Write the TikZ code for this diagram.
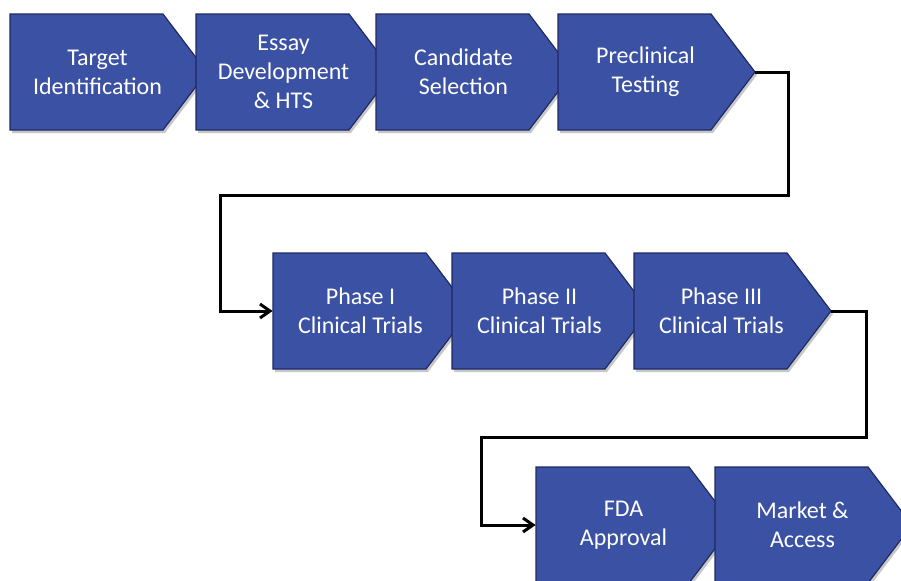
\documentclass[tikz,border=0pt]{standalone}
\usepackage{fontspec}
\setmainfont{Carlito}
\usetikzlibrary{arrows.meta}

\definecolor{stageblue}{RGB}{58,81,164}
\definecolor{stageedge}{RGB}{30,42,98}

\begin{document}
\begin{tikzpicture}[x=0.5pt,y=-0.5pt]
    \tikzstyle{stage}=[fill=stageblue,draw=stageedge,line width=0.6pt]
    \tikzstyle{stageshadow}=[fill=black!22]
    \tikzstyle{stagetext}=[minimum width=87.5pt,minimum height=58pt,inner sep=0pt,
      text=white,align=center,font=\fontsize{12}{14.5}\selectfont]
    \tikzstyle{flow}=[draw=black,line width=1.5pt,-{Straight Barb[length=5pt,width=7pt]}]

    \useasboundingbox (0,0) rectangle (901,580);
    \clip (0,0) rectangle (901,580);

    % stages, drawn left to right so each one covers the tip before it
    \foreach \name/\x/\y/\txt in {tid/10/14/{Target\\Identification},
      essay/196/14/{Essay\\Development\\\& HTS},
      cand/376/14/{Candidate\\Selection},
      pre/558/14/{Preclinical\\Testing},
      ph1/273/253/{Phase I\\Clinical Trials},
      ph2/452/253/{Phase II\\Clinical Trials},
      ph3/634/253/{Phase III\\Clinical Trials},
      fda/536/467/{FDA\\Approval},
      mkt/715/467/{Market \&\\Access}}
    {
      \fill[stageshadow] (\x+2,\y+3) -- ++(153,0) -- ++(44,58) -- ++(-44,58) -- ++(-153,0) -- cycle;
      \draw[stage] (\x,\y) -- ++(153,0) -- ++(44,58) -- ++(-44,58) -- ++(-153,0) -- cycle;
      \node[stagetext] (\name) at (\x+87.5,\y+58) {\txt};
      \coordinate (\name-tip) at (\x+197,\y+58);
    }

    % bends of the two return lines
    \coordinate (bend-a) at (788,195);
    \coordinate (bend-b) at (220,195);
    \coordinate (bend-c) at (866,437);
    \coordinate (bend-d) at (481,437);

    \draw[flow] (pre-tip) -| (bend-a) -- (bend-b) |- (ph1);
    \draw[flow] (ph3-tip) -| (bend-c) -- (bend-d) |- (fda);
\end{tikzpicture}
\end{document}
